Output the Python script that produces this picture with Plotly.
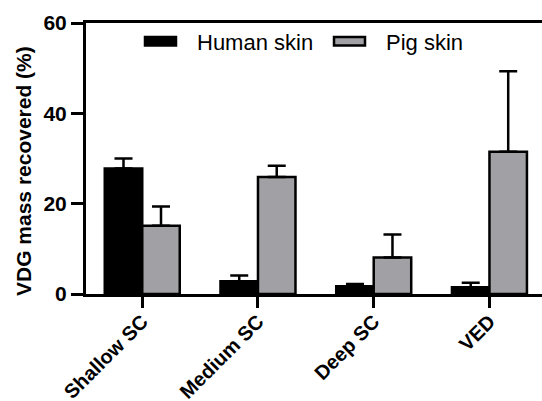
import plotly.graph_objects as go

categories = ["Shallow SC", "Medium SC", "Deep SC", "VED"]
human_mean = [27.8, 2.8, 1.7, 1.5]
human_sd = [2.2, 1.3, 0.5, 1.0]
pig_mean = [15.1, 25.9, 8.1, 31.5]
pig_sd = [4.3, 2.5, 5.1, 17.8]
y_ticks = [0, 20, 40, 60]

FONT = "Liberation Sans, Arial, sans-serif"
PIG = "#a1a1a5"

fig = go.Figure()
fig.add_trace(go.Bar(
    x=categories, y=human_mean, name="Human skin",
    marker=dict(color="black", line=dict(color="black", width=2.5)),
    error_y=dict(type="data", symmetric=False, array=human_sd,
                 arrayminus=[0] * len(human_sd), color="black",
                 thickness=2.5, width=9),
    showlegend=False,
))
fig.add_trace(go.Bar(
    x=categories, y=pig_mean, name="Pig skin",
    marker=dict(color=PIG, line=dict(color="black", width=2.5)),
    error_y=dict(type="data", symmetric=False, array=pig_sd,
                 arrayminus=[0] * len(pig_sd), color="black",
                 thickness=2.5, width=9),
    showlegend=False,
))

L, R, T, B = 86, 0, 23, 107
W, H = 542, 401
pw = W - L - R
ph = H - T - B

def px(x):
    return (x - L) / pw

def py(y):
    return (H - B - y) / ph

shapes = [
    dict(type="rect", xref="paper", yref="paper",
         x0=px(144.5), x1=px(176.5), y0=py(46), y1=py(36.5),
         fillcolor="black", line=dict(color="black", width=1.5)),
    dict(type="rect", xref="paper", yref="paper",
         x0=px(334), x1=px(365), y0=py(45.5), y1=py(37),
         fillcolor=PIG, line=dict(color="black", width=2.5)),
]
annotations = [
    dict(text="Human skin", xref="paper", yref="paper", x=px(195), y=py(42),
         xanchor="left", yanchor="middle", showarrow=False,
         font=dict(family=FONT, size=22, color="black")),
    dict(text="Pig skin", xref="paper", yref="paper", x=px(383.5), y=py(42),
         xanchor="left", yanchor="middle", showarrow=False,
         font=dict(family=FONT, size=22, color="black")),
    dict(text="VDG mass recovered (%)", xref="paper", yref="paper",
         x=px(24), y=py(171), textangle=-90, xanchor="center", yanchor="middle",
         showarrow=False,
         font=dict(family=FONT, size=21, color="black", weight="bold")),
]

fig.update_layout(
    width=W, height=H,
    margin=dict(l=L, r=R, t=T, b=B, pad=0),
    paper_bgcolor="white", plot_bgcolor="white",
    barmode="group", bargap=0.352, bargroupgap=0,
    shapes=shapes, annotations=annotations,
    xaxis=dict(
        range=[-0.486, 3.454], showline=True, linecolor="black", linewidth=3,
        mirror=True, ticks="outside", ticklen=11, tickwidth=3, tickcolor="black",
        tickangle=-45, showgrid=False, zeroline=False, automargin=False,
        ticklabelstandoff=-6,
        tickfont=dict(family=FONT, size=20, color="black", weight="bold"),
    ),
    yaxis=dict(
        range=[0, 60], tickvals=y_ticks, showline=True, linecolor="black",
        linewidth=3, ticks="outside", ticklen=12, tickwidth=3, tickcolor="black",
        showgrid=False, zeroline=False, automargin=False,
        tickfont=dict(family=FONT, size=21, color="black", weight="bold"),
    ),
)

fig.write_html("out.html")
